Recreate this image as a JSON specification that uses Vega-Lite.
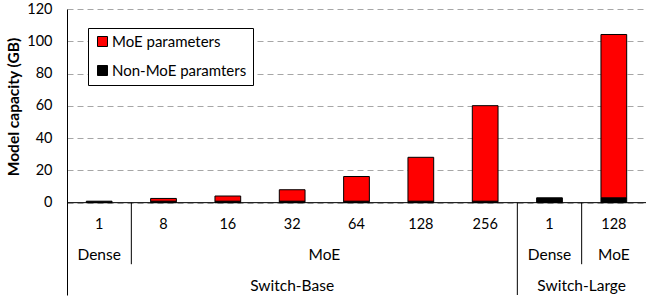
{
  "$schema": "https://vega.github.io/schema/vega-lite/v6.json",
  "width": 647,
  "height": 296,
  "autosize": {"type": "fit", "contains": "padding"},
  "padding": {"left": 6, "top": 1, "right": 0, "bottom": 0},
  "config": {"view": {"stroke": null}, "font": "Lato", "text": {"font": "Lato"}},
  "datasets": {
    "bars": [
      {"id": "SB-1", "family": "Switch-Base", "type": "Dense", "experts": 1, "part": "Non-MoE paramters", "gb": 0.9},
      {"id": "SB-8", "family": "Switch-Base", "type": "MoE", "experts": 8, "part": "Non-MoE paramters", "gb": 0.9},
      {"id": "SB-8", "family": "Switch-Base", "type": "MoE", "experts": 8, "part": "MoE parameters", "gb": 1.7},
      {"id": "SB-16", "family": "Switch-Base", "type": "MoE", "experts": 16, "part": "Non-MoE paramters", "gb": 0.9},
      {"id": "SB-16", "family": "Switch-Base", "type": "MoE", "experts": 16, "part": "MoE parameters", "gb": 3.2},
      {"id": "SB-32", "family": "Switch-Base", "type": "MoE", "experts": 32, "part": "Non-MoE paramters", "gb": 0.9},
      {"id": "SB-32", "family": "Switch-Base", "type": "MoE", "experts": 32, "part": "MoE parameters", "gb": 7.1},
      {"id": "SB-64", "family": "Switch-Base", "type": "MoE", "experts": 64, "part": "Non-MoE paramters", "gb": 0.9},
      {"id": "SB-64", "family": "Switch-Base", "type": "MoE", "experts": 64, "part": "MoE parameters", "gb": 15.3},
      {"id": "SB-128", "family": "Switch-Base", "type": "MoE", "experts": 128, "part": "Non-MoE paramters", "gb": 0.9},
      {"id": "SB-128", "family": "Switch-Base", "type": "MoE", "experts": 128, "part": "MoE parameters", "gb": 27.2},
      {"id": "SB-256", "family": "Switch-Base", "type": "MoE", "experts": 256, "part": "Non-MoE paramters", "gb": 0.9},
      {"id": "SB-256", "family": "Switch-Base", "type": "MoE", "experts": 256, "part": "MoE parameters", "gb": 59.2},
      {"id": "SL-1", "family": "Switch-Large", "type": "Dense", "experts": 1, "part": "Non-MoE paramters", "gb": 3.0},
      {"id": "SL-128", "family": "Switch-Large", "type": "MoE", "experts": 128, "part": "Non-MoE paramters", "gb": 3.0},
      {"id": "SL-128", "family": "Switch-Large", "type": "MoE", "experts": 128, "part": "MoE parameters", "gb": 101.2}
    ],
    "labels_mid": [
      {"label": "Dense", "level": 2, "cat": "SB-1"},
      {"label": "Dense", "level": 2, "cat": "SL-1"},
      {"label": "MoE", "level": 2, "cat": "SL-128"},
      {"label": "Switch-Base", "level": 3, "cat": "SB-32"}
    ],
    "labels_edge": [
      {"label": "MoE", "level": 2, "cat": "SB-32"},
      {"label": "Switch-Large", "level": 3, "cat": "SL-1"}
    ],
    "separators": [
      {"cat": "SB-8", "depth": 2},
      {"cat": "SL-1", "depth": 3},
      {"cat": "SL-128", "depth": 2}
    ]
  },
  "layer": [
    {
      "layer": [
        {
          "data": {"name": "bars"},
          "mark": {"type": "bar", "stroke": "black", "strokeWidth": 1, "width": {"band": 0.4}},
          "encoding": {
            "x": {"field": "id", "type": "nominal", "axis": null,
                  "scale": {"type": "band", "domain": ["SB-1","SB-8","SB-16","SB-32","SB-64","SB-128","SB-256","SL-1","SL-128"], "paddingInner": 0, "paddingOuter": 0}},
            "y": {"field": "gb", "type": "quantitative", "stack": "zero",
                  "scale": {"domain": [-57.23, 120], "nice": false, "zero": false},
                  "axis": {"values": [0,20,40,60,80,100,120], "grid": true, "gridDash": [6,4], "gridColor": "#A6A6A6", "gridWidth": 1,
                           "domainColor": "black", "domainWidth": 1, "ticks": false, "tickSize": 0, "labelPadding": 15,
                           "labelFontSize": 14.5, "labelFont": "Lato", "labelColor": "black",
                           "title": "Model capacity (GB)", "titleFontSize": 15.5, "titleFont": "Lato", "titleFontWeight": "bold",
                           "titleColor": "black", "titlePadding": 5, "titleY": 97.5}},
            "color": {"field": "part", "type": "nominal",
                      "scale": {"domain": ["MoE parameters", "Non-MoE paramters"], "range": ["#FF0000", "#000000"]},
                      "legend": {"title": null, "orient": "none", "legendX": 21, "legendY": 19, "strokeColor": "black", "fillColor": "white",
                                 "padding": 6, "symbolOffset": 1, "symbolType": "square", "symbolSize": 100, "symbolStrokeColor": "black", "symbolStrokeWidth": 1,
                                 "labelFontSize": 15, "labelFont": "Lato", "labelColor": "black", "rowPadding": 13, "labelOffset": 2, "cornerRadius": 0}},
            "order": {"field": "part", "sort": "descending"}
          }
        },
        {
          "data": {"values": [{"baseline": 0}]},
          "mark": {"type": "rule", "color": "black", "strokeWidth": 1},
          "encoding": {"y": {"field": "baseline", "type": "quantitative"}}
        }
      ]
    },
    {
      "layer": [
        {
          "data": {"name": "bars"},
          "transform": [{"filter": "datum.part === 'Non-MoE paramters'"}],
          "mark": {"type": "text", "baseline": "alphabetic", "dy": -4, "fontSize": 14.5, "color": "black"},
          "encoding": {
            "x": {"field": "id", "type": "nominal", "bandPosition": 0.5},
            "y": {"datum": 1, "type": "quantitative", "axis": null,
                  "scale": {"domain": [-6.29, 3], "reverse": true, "nice": false, "zero": false}},
            "text": {"field": "experts"}
          }
        },
        {
          "data": {"name": "labels_mid"},
          "mark": {"type": "text", "baseline": "alphabetic", "dy": -4, "fontSize": 15.5, "color": "black"},
          "encoding": {
            "x": {"field": "cat", "type": "nominal", "bandPosition": 0.5},
            "y": {"field": "level", "type": "quantitative"},
            "text": {"field": "label"}
          }
        },
        {
          "data": {"name": "labels_edge"},
          "mark": {"type": "text", "baseline": "alphabetic", "dy": -4, "fontSize": 15.5, "color": "black"},
          "encoding": {
            "x": {"field": "cat", "type": "nominal", "bandPosition": 1},
            "y": {"field": "level", "type": "quantitative"},
            "text": {"field": "label"}
          }
        },
        {
          "data": {"name": "separators"},
          "mark": {"type": "rule", "color": "black", "strokeWidth": 1},
          "encoding": {
            "x": {"field": "cat", "type": "nominal", "bandPosition": 0},
            "y": {"field": "depth", "type": "quantitative"},
            "y2": {"datum": 0}
          }
        }
      ]
    }
  ],
  "resolve": {"scale": {"y": "independent"}}
}
